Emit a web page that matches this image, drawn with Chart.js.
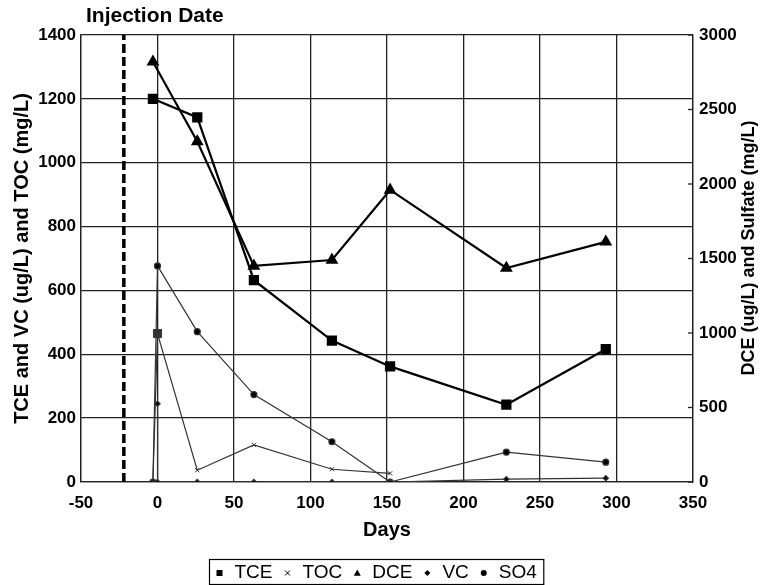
<!DOCTYPE html>
<html lang="en">
  <head>
    <meta charset="utf-8" />
    <style>
      html, body { margin: 0; padding: 0; background: #fff; }
      .chart { width: 762px; height: 585px; }
    </style>
  </head>
  <body>
    <div class="chart">
      <canvas id="myChart" width="762" height="585"></canvas>
    </div>

    <script src="https://cdn.jsdelivr.net/npm/chart.js@4.4.0/dist/chart.umd.min.js"></script>
    <script>
      // values
      var injectionDay = -22;

      var tceDays = [-3, 26, 63, 114, 152, 228, 293];
      var tceVals = [1200, 1142, 632, 443, 362, 242, 416];

      var tocDays = [-3, 0, 26, 63, 114, 152];
      var tocVals = [0, 465, 37, 116, 40, 27];

      var dceDays = [-3, 26, 63, 114, 152, 228, 293];
      var dceVals = [2820, 2285, 1450, 1490, 1960, 1436, 1612];

      var vcDays = [0, 0, 26, 63, 114, 152, 228, 293];
      var vcVals = [245, 0, 0, 0, 0, 0, 9, 12];

      var so4Days = [-3, 0, 26, 63, 114, 152, 228, 293];
      var so4Vals = [0, 1450, 1009, 587, 270, 0, 200, 133];

      var leftTitle = "TCE and VC (ug/L) and TOC (mg/L)";
      var rightTitle = "DCE (ug/L) and Sulfate (mg/L)";
      var xTitle = "Days";
      var injectionLabel = "Injection Date";

      var FONT = "'Liberation Sans', Arial, Helvetica, sans-serif";
      var GRID = "#222";

      function pts(xs, ys) {
        return xs.map(function (x, i) {
          return { x: x, y: ys[i] };
        });
      }

      function plain(v) {
        return String(v);
      }

      function drawMarker(ctx, style, x, y, r) {
        ctx.beginPath();
        if (style === "rect") {
          ctx.rect(x - r, y - r, 2 * r, 2 * r);
          ctx.fill();
        } else if (style === "crossRot") {
          ctx.moveTo(x - r, y - r);
          ctx.lineTo(x + r, y + r);
          ctx.moveTo(x + r, y - r);
          ctx.lineTo(x - r, y + r);
          ctx.stroke();
        } else if (style === "triangle") {
          ctx.moveTo(x, y - r);
          ctx.lineTo(x + r, y + r * 0.8);
          ctx.lineTo(x - r, y + r * 0.8);
          ctx.closePath();
          ctx.fill();
        } else if (style === "rectRot") {
          ctx.moveTo(x, y - r);
          ctx.lineTo(x + r, y);
          ctx.lineTo(x, y + r);
          ctx.lineTo(x - r, y);
          ctx.closePath();
          ctx.fill();
        } else {
          ctx.arc(x, y, r, 0, Math.PI * 2);
          ctx.fill();
        }
      }

      var extras = {
        id: "extras",
        afterDraw: function (chart) {
          var ctx = chart.ctx;
          var area = chart.chartArea;
          var y2 = chart.scales.y2;

          ctx.save();
          // short inward ticks on the right axis
          ctx.strokeStyle = GRID;
          ctx.lineWidth = 1.3;
          y2.ticks.forEach(function (t) {
            var py = y2.getPixelForValue(t.value);
            ctx.beginPath();
            ctx.moveTo(area.right - 5, py);
            ctx.lineTo(area.right, py);
            ctx.stroke();
          });

          ctx.fillStyle = "#000";
          ctx.font = "bold 21px " + FONT;
          ctx.textAlign = "left";
          ctx.textBaseline = "middle";
          ctx.fillText(injectionLabel, 86, 16);

          // right title reads bottom to top like the left one
          ctx.save();
          ctx.font = "bold 18px " + FONT;
          ctx.textAlign = "center";
          ctx.translate(749, 248);
          ctx.rotate(-Math.PI / 2);
          ctx.fillText(rightTitle, 0, 0);
          ctx.restore();

          // legend in a box
          var items = chart.data.datasets.filter(function (d) {
            return d.label;
          });
          ctx.font = "19px " + FONT;
          var total = 17;
          items.forEach(function (d, i) {
            total += 15 + ctx.measureText(d.label).width + (i ? 15 : 0);
          });
          var boxLeft = Math.round(376.5 - total / 2) + 0.5;
          ctx.lineWidth = 1.2;
          ctx.strokeStyle = "#000";
          ctx.strokeRect(boxLeft, 559.5, total, 25);
          var x = boxLeft + 10;
          var yMid = 573;
          ctx.lineWidth = 1;
          items.forEach(function (d) {
            drawMarker(ctx, d.legendStyle, x, yMid, d.legendRadius);
            ctx.fillText(d.label, x + 15, yMid);
            x += 15 + ctx.measureText(d.label).width + 15;
          });
          ctx.restore();
        },
      };

      var ctx = document.getElementById("myChart");
      new Chart(ctx, {
        type: "line",
        data: {
          datasets: [
            {
              label: "TCE",
              data: pts(tceDays, tceVals),
              yAxisID: "y",
              borderColor: "#000",
              backgroundColor: "#000",
              borderWidth: 2.2,
              pointStyle: "rect",
              pointRadius: 5.7,
              legendStyle: "rect",
              legendRadius: 3,
            },
            {
              label: "TOC",
              data: pts(tocDays, tocVals),
              yAxisID: "y",
              borderColor: "#333",
              backgroundColor: "#333",
              borderWidth: 1.2,
              pointStyle: function (c) {
                return c.dataIndex === 1 ? "rect" : "crossRot";
              },
              pointRadius: function (c) {
                return c.dataIndex === 1 ? 5.7 : 3;
              },
              pointBorderWidth: 1,
              legendStyle: "crossRot",
              legendRadius: 2.5,
            },
            {
              label: "DCE",
              data: pts(dceDays, dceVals),
              yAxisID: "y2",
              borderColor: "#000",
              backgroundColor: "#000",
              borderWidth: 2.2,
              pointStyle: "triangle",
              pointRadius: 5.2,
              legendStyle: "triangle",
              legendRadius: 3.5,
            },
            {
              label: "VC",
              data: pts(vcDays, vcVals),
              yAxisID: "y",
              borderColor: "#333",
              backgroundColor: "#000",
              borderWidth: 1.2,
              pointStyle: "rectRot",
              pointRadius: 2.6,
              legendStyle: "rectRot",
              legendRadius: 3,
            },
            {
              label: "SO4",
              data: pts(so4Days, so4Vals),
              yAxisID: "y2",
              borderColor: "#333",
              backgroundColor: "#000",
              borderWidth: 1.2,
              pointStyle: "circle",
              pointRadius: 3,
              legendStyle: "circle",
              legendRadius: 3,
            },
            {
              data: pts([injectionDay, injectionDay], [0, 1400]),
              yAxisID: "y",
              borderColor: "#000",
              borderWidth: 3.5,
              borderDash: [9, 4],
              pointRadius: 0,
            },
          ],
        },
        options: {
          responsive: false,
          animation: false,
          events: [],
          layout: { padding: { top: 35, bottom: 43, left: 0, right: 0 } },
          plugins: {
            legend: { display: false },
            tooltip: { enabled: false },
          },
          elements: { line: { tension: 0, fill: false } },
          scales: {
            x: {
              type: "linear",
              min: -50,
              max: 350,
              ticks: {
                stepSize: 50,
                color: "#000",
                padding: 11,
                callback: plain,
                font: { family: FONT, size: 17, weight: "bold" },
              },
              grid: { color: GRID, lineWidth: 1.3, drawTicks: false },
              border: { color: GRID, width: 1.3 },
              title: {
                display: true,
                text: xTitle,
                color: "#000",
                padding: { top: 0, bottom: 0 },
                font: { family: FONT, size: 20, weight: "bold" },
              },
              afterFit: function (s) {
                s.height = 60;
              },
            },
            y: {
              type: "linear",
              position: "left",
              min: 0,
              max: 1400,
              ticks: {
                stepSize: 200,
                color: "#000",
                padding: 5,
                callback: plain,
                font: { family: FONT, size: 17, weight: "bold" },
              },
              grid: { color: GRID, lineWidth: 1.3, drawTicks: false },
              border: { color: GRID, width: 1.3 },
              title: {
                display: true,
                text: leftTitle,
                color: "#000",
                padding: { top: 10, bottom: 0 },
                font: { family: FONT, size: 20, weight: "bold" },
              },
              afterFit: function (s) {
                s.width = 81;
              },
            },
            y2: {
              type: "linear",
              position: "right",
              min: 0,
              max: 3000,
              ticks: {
                stepSize: 500,
                color: "#000",
                padding: 6,
                callback: plain,
                font: { family: FONT, size: 17, weight: "bold" },
              },
              grid: { drawOnChartArea: false, drawTicks: false },
              border: { color: GRID, width: 1.3 },
              afterFit: function (s) {
                s.width = 69;
              },
            },
          },
        },
        plugins: [extras],
      });
    </script>
  </body>
</html>
